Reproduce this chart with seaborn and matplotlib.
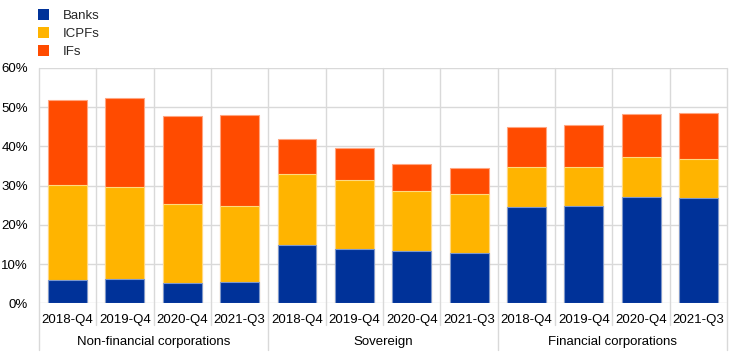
import numpy as np
import pandas as pd
import matplotlib
matplotlib.use("Agg")
import matplotlib.pyplot as plt
import matplotlib.transforms as mtransforms
from matplotlib.patches import Patch
import seaborn as sns

sns.set_style("white")
plt.rcParams['font.family'] = ['Liberation Sans', 'DejaVu Sans']

# data (% of holdings)
groups = ["Non-financial corporations", "Sovereign", "Financial corporations"]
quarters = ["2018-Q4", "2019-Q4", "2020-Q4", "2021-Q3"]
banks = [5.9, 6.1, 5.3, 5.5, 14.9, 13.9, 13.3, 12.8, 24.6, 24.9, 27.1, 26.9]
icpfs = [24.3, 23.6, 20.1, 19.3, 18.1, 17.5, 15.3, 15.1, 10.1, 9.9, 10.3, 9.9]
ifs = [21.6, 22.7, 22.4, 23.3, 8.8, 8.1, 6.9, 6.7, 10.2, 10.6, 10.9, 11.7]

colors = {"Banks": "#003299", "ICPFs": "#FFB400", "IFs": "#FF4B00"}
edges = {"Banks": "#7f99cc", "ICPFs": "#ffd980", "IFs": "#ffa580"}

n = len(banks)
keys = [f"{g}|{q}" for g in groups for q in quarters]
df = pd.DataFrame({"key": keys, "Banks": banks, "ICPFs": icpfs, "IFs": ifs})
df["c1"] = df["Banks"]
df["c2"] = df["Banks"] + df["ICPFs"]
df["c3"] = df["c2"] + df["IFs"]

fig = plt.figure(figsize=(7.44, 3.53), dpi=100)
ax = fig.add_axes([0.0524, 0.1408, 0.9248, 0.6666])

# stacked look: draw cumulative totals, largest first
for col, name in [("c3", "IFs"), ("c2", "ICPFs"), ("c1", "Banks")]:
    sns.barplot(data=df, x="key", y=col, order=keys, color=colors[name],
                saturation=1, width=0.68, edgecolor=edges[name], linewidth=0.8,
                ax=ax, zorder=3)

grid_c = "#d9d9d9"
ax.set_ylim(0, 60)
ax.set_xlim(-0.5, n - 0.5)
ax.set_yticks(np.arange(0, 61, 10))
ax.set_yticklabels([f"{v}%" for v in range(0, 61, 10)])
for v in range(0, 61, 10):
    ax.axhline(v, color=grid_c, lw=1.0, zorder=1)
for s in ax.spines.values():
    s.set_visible(False)

# vertical separators, longer ones between groups
for i in range(n + 1):
    xb = i - 0.5
    ymin = -0.2 if i % 4 == 0 else -0.094
    ax.axvline(xb, ymin=ymin, ymax=1, color=grid_c, lw=1.0, clip_on=False, zorder=1)

ax.set_xticks(range(n))
ax.set_xticklabels(quarters * len(groups))
ax.tick_params(axis="both", length=0, labelsize=9.5, colors="black")
ax.tick_params(axis="x", pad=8)
ax.tick_params(axis="y", pad=8)
ax.set_xlabel("")
ax.set_ylabel("")

trans = mtransforms.blended_transform_factory(ax.transData, ax.transAxes)
for gi, g in enumerate(groups):
    ax.text(gi * 4 + 1.5, -0.165, g, transform=trans, ha="center", va="center",
            fontsize=9.5, color="black")

handles = [Patch(facecolor=colors[k], edgecolor="none", label=k) for k in ["Banks", "ICPFs", "IFs"]]
fig.legend(handles=handles, loc="upper left", bbox_to_anchor=(0.038, 1.0),
           frameon=False, fontsize=9.5, handlelength=0.9, handleheight=0.9,
           handletextpad=1.0, labelspacing=0.38, borderaxespad=0.3)

fig.savefig("out.png", dpi=100)
